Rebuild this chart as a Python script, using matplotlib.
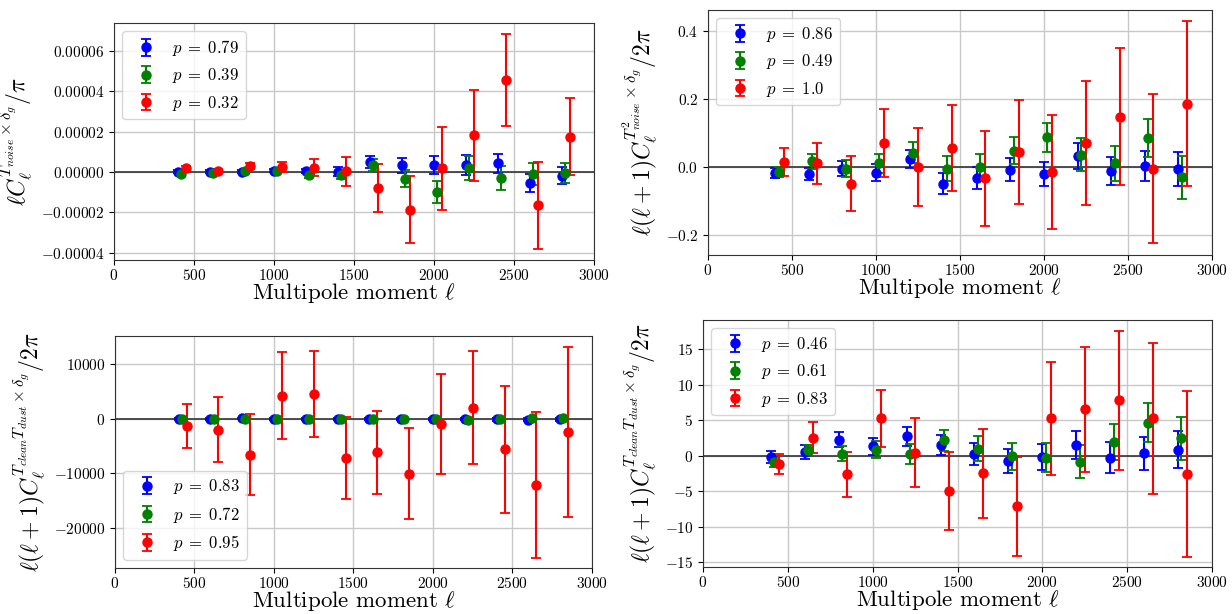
import numpy as np
import matplotlib
matplotlib.use("Agg")
from matplotlib import pyplot as plt
from matplotlib import ticker

plt.rcParams['font.family'] = 'serif'
plt.rcParams['font.serif'] = ['cmr10']
plt.rcParams['mathtext.fontset'] = 'cm'
plt.rcParams['axes.formatter.use_mathtext'] = True

# multipole bins (green and red are shifted a bit so the bars do not overlap)
ell_blue = [400, 600, 800, 1000, 1200, 1400, 1600, 1800, 2000, 2200, 2400, 2600, 2800]
ell_green = [420, 620, 820, 1020, 1220, 1420, 1620, 1820, 2020, 2220, 2420, 2620, 2820]
ell_red = [450, 650, 850, 1050, 1250, 1450, 1650, 1850, 2050, 2250, 2450, 2650, 2850]

# T_noise x delta_g  (units of 1e-5)
tn_blue = [0.0, 0.0, 0.0, 0.05, 0.05, 0.0, 0.48, 0.33, 0.35, 0.35, 0.42, -0.55, -0.18]
tn_blue_err = [0.08, 0.08, 0.08, 0.08, 0.1, 0.22, 0.3, 0.37, 0.45, 0.48, 0.47, 0.45, 0.4]
tn_green = [-0.12, -0.05, 0.05, 0.05, -0.13, -0.17, 0.33, -0.33, -0.98, 0.18, -0.32, -0.12, -0.05]
tn_green_err = [0.08, 0.08, 0.08, 0.1, 0.15, 0.2, 0.3, 0.42, 0.55, 0.6, 0.6, 0.55, 0.48]
tn_red = [0.17, 0.05, 0.27, 0.23, 0.2, 0.02, -0.8, -1.88, 0.18, 1.82, 4.55, -1.65, 1.75]
tn_red_err = [0.1, 0.1, 0.15, 0.25, 0.42, 0.72, 1.2, 1.67, 2.05, 2.25, 2.28, 2.15, 1.9]
tn_p = ["0.79", "0.39", "0.32"]

# T^2_noise x delta_g
t2_blue = [-0.016, -0.02, -0.005, -0.016, 0.024, -0.049, -0.032, -0.007, -0.02, 0.034, -0.011, 0.003, -0.005]
t2_blue_err = [0.015, 0.017, 0.022, 0.026, 0.026, 0.031, 0.032, 0.034, 0.035, 0.038, 0.041, 0.045, 0.049]
t2_green = [-0.014, 0.017, -0.004, 0.011, 0.043, -0.004, 0.0, 0.048, 0.088, 0.037, 0.011, 0.086, -0.03]
t2_green_err = [0.015, 0.021, 0.024, 0.029, 0.032, 0.036, 0.038, 0.04, 0.043, 0.048, 0.052, 0.056, 0.062]
t2_red = [0.015, 0.012, -0.048, 0.071, 0.0, 0.057, -0.033, 0.044, -0.015, 0.071, 0.149, -0.005, 0.187]
t2_red_err = [0.04, 0.06, 0.081, 0.1, 0.115, 0.127, 0.139, 0.153, 0.167, 0.182, 0.2, 0.219, 0.243]
t2_p = ["0.86", "0.49", "1.0"]

# T_clean T_dust x delta_g (left)
cd_blue = [-50, 0, 80, 0, 60, 0, 0, 20, -30, 0, -100, -120, -100]
cd_blue_err = [150, 160, 170, 180, 190, 200, 210, 220, 230, 240, 250, 260, 280]
cd_green = [-30, 0, -20, 0, -100, -50, 0, -100, -20, -150, 50, 100, 100]
cd_green_err = [150, 160, 170, 180, 190, 200, 210, 220, 230, 240, 250, 260, 280]
cd_red = [-1230, -1960, -6560, 4290, 4600, -7180, -6130, -10060, -980, 2020, -5580, -12150, -2330]
cd_red_err = [4050, 5980, 7420, 8040, 7850, 7550, 7610, 8310, 9200, 10370, 11630, 13340, 15610]
cd_p = ["0.83", "0.72", "0.95"]

# T_clean T_dust x delta_g (right)
cd2_blue = [-0.14, 0.52, 2.2, 1.32, 2.73, 1.46, 0.19, -0.75, -0.19, 1.5, -0.28, 0.33, 0.85]
cd2_blue_err = [0.85, 0.95, 1.05, 1.18, 1.33, 1.42, 1.53, 1.65, 1.86, 2.0, 2.18, 2.33, 2.6]
cd2_green = [-0.94, 0.8, 0.28, 0.8, 0.19, 2.16, 0.99, -0.1, -0.28, -0.85, 1.93, 4.6, 2.44]
cd2_green_err = [0.7, 0.75, 1.0, 1.2, 1.4, 1.5, 1.7, 1.88, 2.1, 2.3, 2.55, 2.75, 3.0]
cd2_red = [-1.18, 2.49, -2.63, 5.22, 0.42, -4.98, -2.49, -7.15, 5.22, 6.49, 7.76, 5.27, -2.54]
cd2_red_err = [1.43, 2.2, 3.15, 4.0, 4.8, 5.55, 6.3, 7.0, 7.95, 8.85, 9.8, 10.65, 11.7]
cd2_p = ["0.46", "0.61", "0.83"]


def panel(ax, blue, blue_err, green, green_err, red, red_err, pvals, ylabel, legloc, scale=1.0):
    sets = [(ell_blue, blue, blue_err, 'blue'),
            (ell_green, green, green_err, 'green'),
            (ell_red, red, red_err, 'red')]
    for (x, y, e, c), p in zip(sets, pvals):
        ax.errorbar(x, np.array(y) * scale, yerr=np.array(e) * scale, fmt='o', color=c,
                    ms=6.5, capsize=3.5, elinewidth=1.5, capthick=1.3,
                    label=r'$p\;=\;%s$' % p, zorder=3)
    ax.axhline(0, color='#333333', linewidth=1.2, zorder=2)
    ax.grid(True, color='#c8c8c8', linewidth=1.0)
    ax.set_axisbelow(True)
    ax.set_xlim(0, 3000)
    ax.xaxis.set_major_locator(ticker.MultipleLocator(500))
    ax.tick_params(labelsize=11)
    ax.tick_params(axis='x', pad=2)
    ax.set_xlabel(r'Multipole moment $\ell$', fontsize=16.5, labelpad=-1)
    ax.set_ylabel(ylabel, fontsize=17)
    ax.legend(loc=legloc, fontsize=12, handletextpad=0.6, fancybox=True)
    for s in ax.spines.values():
        s.set_color('#333333')


fig = plt.figure(figsize=(12.32, 6.14), dpi=100)

ax1 = fig.add_axes([0.0925, 0.5765, 0.3895, 0.386])
panel(ax1, tn_blue, tn_blue_err, tn_green, tn_green_err, tn_red, tn_red_err, tn_p,
      r'$\ell C_\ell^{T_{noise}\times\delta_g}/\pi$', 'upper left', scale=1e-5)
ax1.set_ylim(-4.37e-5, 7.38e-5)
ax1.yaxis.set_major_locator(ticker.MultipleLocator(2e-5))
ax1.yaxis.set_major_formatter(ticker.FormatStrFormatter('$%.5f$'))

ax2 = fig.add_axes([0.5747, 0.5847, 0.4091, 0.399])
panel(ax2, t2_blue, t2_blue_err, t2_green, t2_green_err, t2_red, t2_red_err, t2_p,
      r'$\ell(\ell+1)C_\ell^{T^2_{noise}\times\delta_g}/2\pi$', 'upper left')
ax2.set_ylim(-0.258, 0.462)
ax2.yaxis.set_major_locator(ticker.MultipleLocator(0.2))

ax3 = fig.add_axes([0.0933, 0.0749, 0.3872, 0.3779])
panel(ax3, cd_blue, cd_blue_err, cd_green, cd_green_err, cd_red, cd_red_err, cd_p,
      r'$\ell(\ell+1)C_\ell^{T_{clean}T_{dust}\times\delta_g}/2\pi$', 'lower left')
ax3.set_ylim(-27362, 15215)
ax3.yaxis.set_major_locator(ticker.MultipleLocator(10000))

ax4 = fig.add_axes([0.5706, 0.0765, 0.4132, 0.4023])
panel(ax4, cd2_blue, cd2_blue_err, cd2_green, cd2_green_err, cd2_red, cd2_red_err, cd2_p,
      r'$\ell(\ell+1)C_\ell^{T_{clean}T_{dust}\times\delta_g}/2\pi$', 'upper left')
ax4.set_ylim(-15.7, 19.09)
ax4.yaxis.set_major_locator(ticker.MultipleLocator(5))

fig.savefig('out.png', dpi=100)
